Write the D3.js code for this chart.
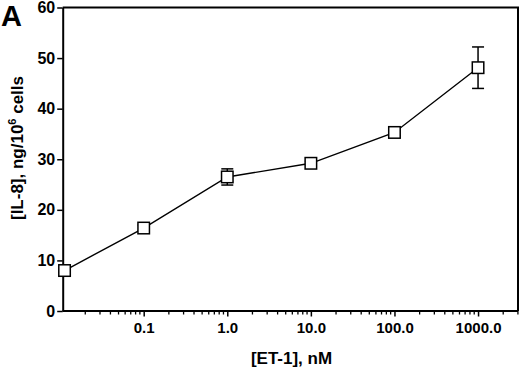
<!DOCTYPE html>
<html><head><meta charset="utf-8">
<script src="https://cdn.jsdelivr.net/npm/d3@7"></script>
<style>html,body{margin:0;padding:0;background:#fff;}svg{display:block;font-family:"Liberation Sans",Arial,sans-serif;font-weight:bold;}</style>
</head><body>
<svg id="c" width="520" height="368"></svg>
<script>
const concentrations = [0.0113, 0.1, 1, 10, 100, 1000];
const il8 = [8.0, 16.4, 26.5, 29.2, 35.3, 48.1];
const il8Err = [0.3, 0.6, 1.6, 0.4, 0.7, 4.1];
const xTicks = [0.1, 1, 10, 100, 1000];
const xTickLabels = ["0.1", "1.0", "10.0", "100.0", "1000.0"];
const yTicks = [0, 10, 20, 30, 40, 50, 60];

const svg = d3.select("#c");
const m = {l: 62.7, r: 518, t: 7.5, b: 311};
const x = d3.scaleLog().domain([0.01074, 3006]).range([m.l, m.r]);
const y = d3.scaleLinear().domain([0, 60]).range([m.b, m.t]);

// frame top/right
svg.append("path").attr("d", `M${m.l},${m.t}H${m.r}V${m.b}`).attr("fill","none").attr("stroke","#000").attr("stroke-width",2);

// minor x ticks
const minor = [];
for (let e = -2; e <= 3; e++) for (let k = 2; k <= 9; k++) { const v = k * Math.pow(10, e); if (v >= 0.01074 && v <= 3006) minor.push(v); }
svg.append("g").selectAll("line").data(minor).join("line")
  .attr("x1", d => x(d)).attr("x2", d => x(d)).attr("y1", m.b).attr("y2", m.b + 3.5)
  .attr("stroke", "#000").attr("stroke-width", 1.3);

const xAxis = svg.append("g").attr("transform", `translate(0,${m.b})`)
  .call(d3.axisBottom(x).tickValues(xTicks).tickFormat((d, i) => xTickLabels[i]).tickSize(5.5).tickSizeOuter(0).tickPadding(6));
xAxis.select(".domain").attr("stroke-width", 2).attr("d", `M${m.l},0H${m.r}`);
xAxis.selectAll(".tick line").attr("stroke-width", 1.5);
xAxis.selectAll("text").attr("font-size", 15).attr("font-family", null).attr("fill", "#000");

const yAxis = svg.append("g").attr("transform", `translate(${m.l},0)`)
  .call(d3.axisLeft(y).tickValues(yTicks).tickSize(5.5).tickSizeOuter(0).tickPadding(2));
yAxis.select(".domain").attr("stroke-width", 2);
yAxis.selectAll(".tick line").attr("stroke-width", 1.5);
yAxis.selectAll("text").attr("font-size", 16).attr("font-family", null).attr("fill", "#000");

// line
const data = concentrations.map((c, i) => ({c, v: il8[i], e: il8Err[i]}));
svg.append("path").datum(data)
  .attr("d", d3.line().x(d => x(d.c)).y(d => y(d.v)))
  .attr("fill", "none").attr("stroke", "#000").attr("stroke-width", 1.4);

// error bars
const eb = svg.append("g").attr("stroke", "#000").attr("stroke-width", 1.5);
data.forEach(d => {
  eb.append("line").attr("x1", x(d.c)).attr("x2", x(d.c)).attr("y1", y(d.v + d.e)).attr("y2", y(d.v - d.e));
  [d.v + d.e, d.v - d.e].forEach(v => eb.append("line").attr("x1", x(d.c) - 6).attr("x2", x(d.c) + 6).attr("y1", y(v)).attr("y2", y(v)));
});

// squares
const s = 11.5;
svg.append("g").selectAll("rect").data(data).join("rect")
  .attr("x", d => x(d.c) - s / 2).attr("y", d => y(d.v) - s / 2).attr("width", s).attr("height", s)
  .attr("fill", "#fff").attr("stroke", "#000").attr("stroke-width", 1.5);

// labels
svg.append("text").attr("x", 291.5).attr("y", 364).attr("text-anchor", "middle").attr("font-size", 17).text("[ET-1], nM");
const yl = svg.append("text").attr("transform", "translate(23,148) rotate(-90)").attr("text-anchor", "middle").attr("font-size", 17);
yl.append("tspan").text("[IL-8], ng/10");
yl.append("tspan").attr("font-size", 11).attr("dy", -7).text("6");
yl.append("tspan").attr("dy", 7).text(" cells");
svg.append("text").attr("x", 1).attr("y", 26).attr("font-size", 29).text("A");
</script>
</body></html>
